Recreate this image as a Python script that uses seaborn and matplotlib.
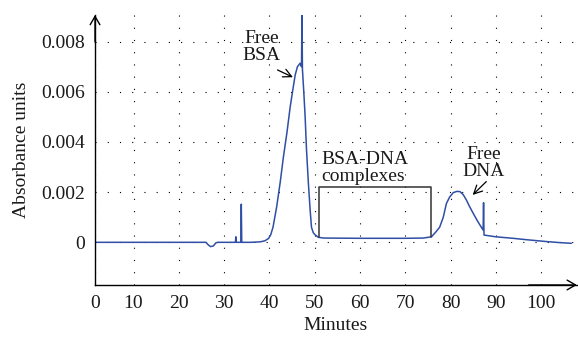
import matplotlib
matplotlib.use("Agg")
import matplotlib.pyplot as plt
import numpy as np
import pandas as pd
import seaborn as sns

# chromatogram trace
minutes = [0, 5, 10, 15, 20, 25, 26.0, 26.5, 27.0, 27.6, 28.2, 28.6, 31.0,
           32.5, 32.6, 32.7, 33.7, 33.8, 33.9, 36, 38, 39, 39.8, 40.3, 40.8,
           41.6, 42.4, 43.1, 43.9, 44.6, 45.2, 45.7, 46.2, 46.8, 47.1, 47.2,
           47.3, 47.6, 47.9, 48.2, 48.6, 49.0, 49.3, 49.7, 50.1, 50.8, 52,
           60, 70, 74, 75.8, 76.7, 77.6, 78.4, 79.1, 79.8, 80.6, 81.4, 82.1,
           82.8, 83.5, 84.2, 85.0, 85.8, 86.5, 87.2, 87.3, 87.4, 88.5, 90,
           93.8, 97, 101.2, 104, 106.7]
absorbance = [0.0, 0.0, 0.0, 0.0, 0.0, 0.0, 0.0, -0.0001, -0.00017, -0.00015,
              -0.00002, 0.0, 0.0, 0.0, 0.00022, 0.0, 0.0, 0.00152, 0.0, 0.0,
              0.00002, 0.00006, 0.00015, 0.0003, 0.0006, 0.0014, 0.0024,
              0.0034, 0.0044, 0.0054, 0.0061, 0.00667, 0.0070, 0.00714,
              0.0070, 0.0092, 0.0069, 0.0060, 0.0050, 0.0037, 0.0024, 0.0013,
              0.0006, 0.00038, 0.0003, 0.0002, 0.00017, 0.00016, 0.00016,
              0.00017, 0.00022, 0.0004, 0.0006, 0.0010, 0.00155, 0.0018,
              0.00198, 0.00203, 0.00202, 0.0019, 0.00169, 0.00143, 0.00116,
              0.0009, 0.00069, 0.00049, 0.00158, 0.00029, 0.00026, 0.00022,
              0.00016, 0.0001, 0.00003, -0.00001, -0.00004]

x_ticks = [10, 20, 30, 40, 50, 60, 70, 80, 90, 100]
y_ticks = [0, 0.002, 0.004, 0.006, 0.008]
y_labels = ["0", "0.002", "0.004", "0.006", "0.008"]

# complexes window (box)
box_x = [51.0, 75.7]
box_y = [0.0002, 0.00219]

df = pd.DataFrame({"Minutes": minutes, "Absorbance": absorbance})

sns.set_style("white")
plt.rcParams["font.family"] = ["Liberation Serif", "DejaVu Serif"]
plt.rcParams["font.size"] = 14

fig, ax = plt.subplots(figsize=(5.78, 3.45), dpi=100)
fig.subplots_adjust(left=0.1644, right=0.998, bottom=0.174, top=0.9565)

sns.lineplot(data=df, x="Minutes", y="Absorbance", ax=ax, color="#2f4ea5",
             lw=1.1, estimator=None, sort=False)

xlo, xhi = 1.5, 107.9
ylo, yhi = -0.0017, 0.00906
ax.set_xlim(xlo, xhi)
ax.set_ylim(ylo, yhi)

# the origin label sits on the axis line, as in the source figure
ax.set_xticks([xlo] + x_ticks, labels=["0"] + [str(t) for t in x_ticks])
ax.set_yticks(y_ticks, labels=y_labels)
ax.tick_params(axis="both", direction="in", length=4, width=0.8,
               color="black", labelsize=14, labelcolor="#1a1a1a")
ax.tick_params(axis="x", pad=7)
ax.tick_params(axis="y", pad=7)
ax.grid(True, linestyle=(0, (1, 10)), color="black", linewidth=0.8)

for s in ["top", "right"]:
    ax.spines[s].set_visible(False)
for s in ["left", "bottom"]:
    ax.spines[s].set_color("black")
    ax.spines[s].set_linewidth(1.0)

arrow_kw = dict(arrowstyle="->,head_length=0.6,head_width=0.35", lw=1.0,
                color="black", shrinkA=0, shrinkB=0, mutation_scale=10)
ax.annotate("", xy=(1, 0), xytext=(0.9, 0), xycoords="axes fraction",
            arrowprops=arrow_kw, annotation_clip=False)
ax.annotate("", xy=(0, 1), xytext=(0, 0.9), xycoords="axes fraction",
            arrowprops=arrow_kw, annotation_clip=False)

ax.set_xlabel("Minutes", fontsize=14, labelpad=4, color="#1a1a1a")
ax.set_ylabel("Absorbance units", fontsize=14, labelpad=8, color="#1a1a1a")

# box around the complexes region
ax.plot([box_x[0], box_x[0], box_x[1], box_x[1]],
        [box_y[0], box_y[1], box_y[1], box_y[0]], color="#333333", lw=1.1)

txt_kw = dict(fontsize=14, color="#1a1a1a", linespacing=1.0)
ax.text(38.2, 0.00778, "Free\nBSA", ha="center", va="center", **txt_kw)
ax.text(51.5, 0.00295, "BSA-DNA\ncomplexes", ha="left", va="center", **txt_kw)
ax.text(87.4, 0.00318, "Free\nDNA", ha="center", va="center", **txt_kw)

ann_kw = dict(arrowstyle="->,head_length=0.6,head_width=0.3", lw=0.9,
              color="black", shrinkA=0, shrinkB=0, mutation_scale=10)
ax.annotate("", xy=(45.2, 0.00658), xytext=(41.8, 0.00687), arrowprops=ann_kw)
ax.annotate("", xy=(84.9, 0.00189), xytext=(87.9, 0.00242), arrowprops=ann_kw)

fig.savefig("out.png", dpi=100)
